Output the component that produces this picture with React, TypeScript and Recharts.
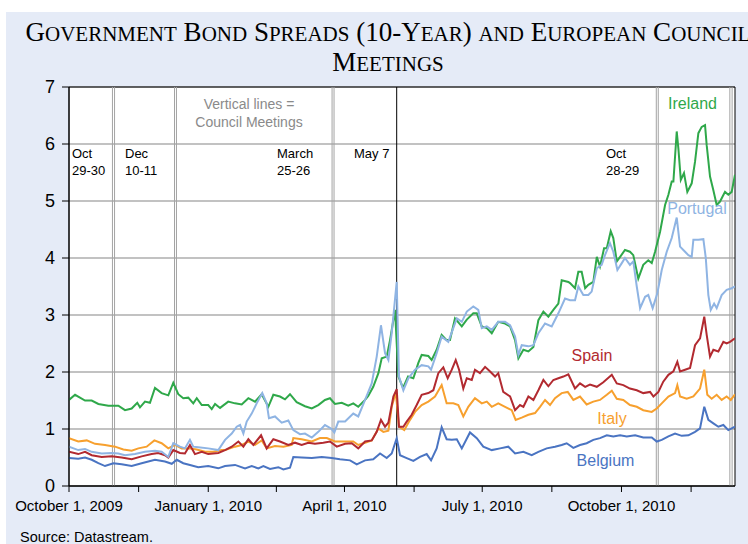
import React from 'react';
import { LineChart, Line, XAxis, YAxis, CartesianGrid, ReferenceLine, ReferenceArea } from 'recharts';

// x = days since October 1, 2009 ; y = spread over Bunds (percentage points)
const ireland: [number, number][] = [[0,1.51],[4,1.60],[10.6,1.50],[15,1.50],[19.4,1.44],[26,1.41],[32.6,1.41],[37,1.33],[41.4,1.36],[45.1,1.46],[46.9,1.38],[50.2,1.48],[53.5,1.46],[56.8,1.72],[61.2,1.63],[65.6,1.59],[68.9,1.81],[72.2,1.61],[75.5,1.54],[78.8,1.55],[82.1,1.45],[84.4,1.54],[87.7,1.42],[92,1.42],[94.3,1.35],[96.5,1.44],[99.8,1.37],[105.2,1.48],[109.7,1.45],[114.1,1.43],[118.5,1.54],[122.9,1.48],[127.3,1.61],[131.7,1.39],[135,1.60],[139.4,1.57],[142.7,1.52],[146,1.61],[150.4,1.47],[155.9,1.40],[160.4,1.36],[164.7,1.42],[169.1,1.51],[172.4,1.54],[175.7,1.44],[180.2,1.46],[184.5,1.41],[187.8,1.45],[191.1,1.39],[195.6,1.51],[197.7,1.58],[201,1.74],[204.4,1.98],[206.6,2.24],[209.9,2.27],[212.1,2.56],[215.4,3.09],[217.6,1.92],[220.7,1.72],[224,1.92],[227.5,1.89],[230.8,2.16],[233,2.30],[237.4,2.28],[239.6,2.21],[242.9,2.39],[246.2,2.65],[249.5,2.56],[251.7,2.56],[255,2.94],[259.5,2.80],[262.8,2.92],[267.1,3.03],[269.4,3.03],[272.7,2.80],[276,2.77],[279.3,2.68],[283.6,2.88],[288.1,2.85],[291.4,2.80],[294.7,2.56],[296.9,2.24],[300.2,2.39],[303.5,2.36],[306.8,2.44],[310.1,2.91],[313.4,3.06],[316.7,2.97],[320,3.09],[323.3,3.20],[325.5,3.61],[329.9,3.58],[331,3.56],[334.3,3.47],[336.5,3.76],[338.7,3.76],[341,3.47],[343.1,3.53],[346.4,3.58],[348.7,4.02],[350.8,3.85],[353.5,4.17],[355.3,4.17],[357.9,4.47],[359.6,4.35],[361.9,3.94],[364.1,4.02],[367.3,4.14],[370.6,4.11],[372.8,4.05],[376.1,3.64],[379.4,3.88],[382.7,3.96],[385,3.91],[387.2,4.11],[390.5,4.46],[393.8,4.93],[396,5.11],[398.2,5.34],[399.3,5.34],[401.5,6.22],[402.6,5.92],[404.2,5.37],[406.3,5.49],[408.5,5.16],[411.4,5.31],[413.6,5.69],[415.8,6.19],[418,6.30],[420.2,6.33],[421.3,5.98],[423.5,5.43],[425.7,5.19],[427.9,4.93],[430.1,4.99],[433.4,5.16],[435.6,5.11],[437.8,5.16],[440,5.46]];

const portugal: [number, number][] = [[0,0.69],[6.1,0.63],[10.6,0.65],[15,0.60],[21.6,0.57],[28.2,0.58],[32.6,0.57],[37,0.54],[43.6,0.56],[50.2,0.60],[56.8,0.62],[61.2,0.60],[65.6,0.51],[68.9,0.75],[73.3,0.69],[76.6,0.66],[79.9,0.81],[82.1,0.69],[85.4,0.68],[92,0.66],[98.6,0.63],[103.1,0.81],[107.5,0.92],[110.8,1.04],[113,1.07],[115.2,0.92],[117.4,1.13],[120.7,1.27],[124,1.45],[127.7,1.63],[130.6,1.45],[132.1,1.19],[136.1,1.22],[140.5,1.11],[144.9,1.15],[148.2,0.98],[152.6,0.91],[155.9,0.92],[160.4,0.85],[164.7,0.95],[169.1,1.07],[173.1,1.01],[175.3,0.94],[177.9,1.13],[182.4,1.13],[187.8,1.27],[191.1,1.22],[195.6,1.51],[200,1.80],[203.3,2.27],[206.1,2.82],[208.8,2.33],[211,2.21],[213.2,2.68],[216.5,3.58],[218,1.92],[220.9,1.68],[224.2,1.89],[228.6,2.04],[233,2.12],[237.4,2.10],[239.2,2.04],[242.9,2.33],[246.2,2.62],[250.6,2.53],[256.2,2.94],[259.5,2.88],[262.8,3.06],[267.1,3.15],[270.4,3.09],[272.7,2.77],[276,2.80],[279.3,2.74],[283.6,2.88],[288.1,2.88],[291.4,2.82],[294.7,2.62],[296.9,2.30],[299.1,2.47],[303.5,2.45],[306.8,2.47],[310.1,2.68],[314.5,2.85],[318.9,2.80],[323.3,3.03],[327.7,3.29],[331,3.26],[334.3,3.26],[336.5,3.50],[339.8,3.35],[343.1,3.35],[345.3,3.41],[348.7,3.82],[351.9,3.88],[354.1,4.05],[357.4,4.26],[359.6,4.11],[362.3,3.79],[365.2,3.91],[367.3,4.00],[370.6,3.88],[372.8,3.94],[375.1,3.50],[377.3,3.12],[380.6,3.32],[382.7,3.35],[385.6,3.12],[388.7,3.38],[391.6,3.79],[394.9,4.11],[398.2,4.35],[401.5,4.71],[403.7,4.20],[407,4.11],[409.2,4.05],[411.4,4.02],[412.5,4.32],[415.8,4.32],[419.1,4.33],[420.7,4.00],[422.4,3.35],[424,3.09],[426.2,3.20],[427.9,3.12],[431.2,3.35],[434.5,3.44],[437.8,3.47],[440,3.50]];

const spain: [number, number][] = [[0,0.60],[6.1,0.56],[10.6,0.60],[15,0.54],[21.6,0.51],[28.2,0.52],[34.8,0.50],[41.4,0.47],[48,0.52],[54.6,0.56],[59,0.58],[63.4,0.54],[65.6,0.50],[68.9,0.63],[73.3,0.58],[76.6,0.57],[79.9,0.72],[83.2,0.56],[87.7,0.60],[92,0.56],[98.6,0.58],[103.1,0.63],[107.5,0.69],[111.9,0.78],[115.2,0.69],[118.5,0.82],[121.8,0.72],[126.9,0.89],[130.6,0.66],[135,0.82],[139.4,0.78],[144.9,0.72],[149.3,0.76],[153.7,0.72],[158.1,0.76],[162.5,0.74],[168,0.76],[172.4,0.78],[176.9,0.69],[182.4,0.74],[186.8,0.75],[191.1,0.66],[195.6,0.78],[200,0.80],[203.3,0.95],[206.1,1.16],[208.8,1.04],[211,1.11],[214.3,1.57],[216.5,1.70],[218,1.04],[220.9,1.04],[223.1,1.13],[226.4,1.25],[229.7,1.42],[233,1.60],[237.4,1.63],[240.7,1.68],[244,1.98],[247.3,2.08],[250.2,1.89],[252.9,2.04],[255.5,2.21],[257.7,2.04],[260.5,1.71],[262.8,1.89],[266.1,1.86],[268.2,2.04],[271.5,1.98],[274.9,2.09],[278.2,2.01],[281.5,1.92],[283.6,1.98],[286.9,1.65],[291.4,1.57],[294.7,1.33],[298,1.42],[300.2,1.39],[303.5,1.57],[306.8,1.51],[310.1,1.68],[313.4,1.86],[316.7,1.75],[320,1.86],[323.3,1.89],[326.6,1.92],[329.9,1.96],[334.3,1.71],[337.6,1.80],[341,1.74],[344.2,1.78],[348.7,1.74],[353,1.82],[358.6,1.95],[361.9,1.80],[366.2,1.77],[370.6,1.71],[375.1,1.68],[379.4,1.63],[383.9,1.65],[386.1,1.57],[389.4,1.65],[392.6,1.83],[396,1.95],[399.3,2.01],[401.9,2.18],[403.7,2.01],[407,2.04],[410.3,2.07],[413.6,2.47],[416.9,2.59],[419.7,2.97],[421.3,2.65],[423.5,2.27],[425.7,2.39],[429,2.36],[432.3,2.53],[434.5,2.50],[436.7,2.53],[440,2.59]];

const italy: [number, number][] = [[0,0.84],[6.1,0.78],[11.7,0.80],[17.2,0.74],[23.8,0.72],[30.4,0.69],[35.9,0.64],[41.4,0.62],[45.8,0.66],[51.3,0.69],[56.4,0.80],[61.2,0.75],[65.6,0.66],[70,0.72],[74.5,0.66],[79.9,0.66],[84.4,0.64],[89.9,0.60],[95.3,0.60],[100.9,0.63],[103.1,0.63],[109.7,0.69],[114.1,0.72],[118.5,0.78],[122.9,0.72],[127.3,0.80],[130.6,0.66],[136.1,0.70],[141.6,0.69],[147.1,0.72],[148.2,0.84],[153.7,0.82],[160.4,0.78],[165.8,0.84],[170.3,0.84],[175.7,0.78],[182.4,0.78],[187.8,0.78],[191.1,0.72],[195.6,0.76],[200,0.80],[204.4,1.01],[207.7,0.95],[211,0.97],[213.2,1.39],[215.9,1.64],[218,1.04],[221.5,0.98],[225.3,1.16],[228.6,1.30],[233,1.42],[237.4,1.48],[241.8,1.57],[246.2,1.77],[249.5,1.45],[253.9,1.45],[257.2,1.42],[260.5,1.22],[263.8,1.39],[268.2,1.54],[272.7,1.45],[276,1.48],[279.3,1.39],[283.6,1.45],[288.1,1.39],[292.5,1.33],[295.1,1.16],[299.1,1.20],[303.5,1.25],[307.9,1.28],[311.2,1.39],[314.5,1.51],[317.8,1.42],[321.1,1.54],[325.5,1.63],[329.5,1.65],[333.2,1.51],[337.6,1.57],[342,1.43],[346.4,1.48],[350.8,1.51],[355.3,1.60],[358.6,1.67],[361.9,1.53],[366.2,1.51],[370.6,1.42],[375.1,1.39],[379.4,1.33],[385,1.30],[388.3,1.36],[391.6,1.45],[396,1.57],[400.4,1.63],[401.9,1.77],[403.7,1.57],[408.1,1.53],[412.5,1.57],[416.9,1.71],[419.7,2.04],[421.7,1.60],[424.6,1.53],[427.9,1.60],[431.2,1.51],[434.5,1.57],[437.2,1.51],[440,1.61]];

const belgium: [number, number][] = [[0,0.49],[6.1,0.48],[10.6,0.50],[15,0.46],[19.4,0.40],[23.8,0.35],[29.3,0.40],[34.8,0.38],[41.4,0.35],[48,0.40],[52.4,0.43],[56.8,0.46],[63.4,0.43],[67.9,0.39],[71.2,0.46],[75.5,0.40],[79.9,0.37],[85.4,0.33],[92,0.35],[98.6,0.31],[103.1,0.35],[109.7,0.37],[116.3,0.31],[120.7,0.35],[125.1,0.31],[128.4,0.35],[132.8,0.30],[138.3,0.33],[141.6,0.29],[146,0.32],[148.2,0.51],[153.7,0.50],[160.4,0.49],[167,0.51],[173.6,0.49],[179,0.47],[185.7,0.45],[190.1,0.38],[195.6,0.45],[201,0.47],[205.5,0.57],[209.9,0.49],[213.2,0.57],[216.5,0.84],[218.7,0.54],[223.1,0.49],[227.5,0.44],[231.9,0.51],[236.3,0.56],[239.2,0.45],[242.9,0.66],[246.2,1.03],[249.5,0.82],[252.9,0.81],[256.2,0.82],[259.5,0.66],[264.9,0.94],[269.4,0.84],[273.7,0.69],[279.3,0.63],[284.8,0.66],[290.2,0.69],[294.7,0.57],[300.2,0.60],[305.7,0.54],[310.1,0.60],[315.6,0.66],[321.1,0.69],[325.5,0.72],[328.8,0.75],[333.2,0.67],[337.6,0.72],[342,0.75],[346.4,0.81],[350.8,0.84],[355.3,0.89],[359.6,0.87],[364.1,0.89],[368.5,0.87],[374,0.89],[379.4,0.85],[385,0.85],[388.3,0.78],[391.6,0.81],[396,0.87],[400.4,0.92],[404.8,0.88],[409.2,0.89],[413.6,0.95],[416.9,1.01],[419.7,1.39],[422.4,1.16],[425.7,1.10],[429,1.04],[432.3,1.07],[435.6,0.98],[440,1.04]];

const xTicks = [0, 46, 92, 137, 182, 228, 273, 319, 365, 411];
const xTickLabels: Record<number, string> = {
  0: 'October 1, 2009',
  92: 'January 1, 2010',
  182: 'April 1, 2010',
  273: 'July 1, 2010',
  365: 'October 1, 2010',
};
const yTicks = [0, 1, 2, 3, 4, 5, 6, 7];
// two-day European Council meetings (each day drawn as a line)
const councilMeetings: [number, number][] = [[28.7, 30.1], [69.7, 71.0], [173.8, 175.1], [388.0, 389.3], [436.6, 438.1]];
const may7 = 216.5;

const series = [
  { name: 'Belgium', data: belgium, color: '#4a74c2' },
  { name: 'Italy', data: italy, color: '#f7a02e' },
  { name: 'Spain', data: spain, color: '#b22a30' },
  { name: 'Ireland', data: ireland, color: '#2fa84a' },
  { name: 'Portugal', data: portugal, color: '#8fb4e3' },
];

const titleLine1 = 'Government Bond Spreads (10-Year) and European Council';
const titleLine2 = 'Meetings';

const sans = '"Liberation Sans", Arial, sans-serif';

function smallCaps(str: string, big: number, small: number) {
  const runs: { t: string; lower: boolean }[] = [];
  for (const ch of str) {
    const lower = ch >= 'a' && ch <= 'z';
    const last = runs[runs.length - 1];
    if (last && last.lower === lower) last.t += ch;
    else runs.push({ t: ch, lower });
  }
  return runs.map((r, i) => (
    <tspan key={i} fontSize={r.lower ? small : big}>{r.lower ? r.t.toUpperCase() : r.t}</tspan>
  ));
}

const XTick = (props: any) => {
  const { x, y, payload } = props;
  const label = xTickLabels[payload.value] ?? '';
  return (
    <text x={x} y={y} dy="0.71em" textAnchor="middle" fontSize={15} fontFamily={sans} fill="#000">
      {label}
    </text>
  );
};

const Label = ({ cx, cy, color, text, size }: any) => (
  <div style={{ position: 'absolute', left: cx - 60, top: cy - 10, width: 120, textAlign: 'center', lineHeight: '20px', fontSize: size, color, fontFamily: sans, whiteSpace: 'nowrap' }}>{text}</div>
);

const Note = ({ left, top, lines }: any) => (
  <div style={{ position: 'absolute', left, top, fontSize: 13, lineHeight: '17px', color: '#000', fontFamily: sans, whiteSpace: 'nowrap' }}>
    {lines.map((l: string, i: number) => <div key={i}>{l}</div>)}
  </div>
);

export default function App() {
  return (
    <div style={{ position: 'absolute', left: 6, top: 12, width: 742, height: 532, background: '#e5ebf7', overflow: 'hidden' }}>
      <svg width={742} height={80} style={{ position: 'absolute', left: 0, top: 0 }}>
        <text x={382} y={29} textAnchor="middle" fontFamily='"Liberation Serif", "Times New Roman", serif' fill="#000" style={{ whiteSpace: 'pre' }}>
          {smallCaps(titleLine1, 27, 21)}
        </text>
        <text x={382} y={59} textAnchor="middle" fontFamily='"Liberation Serif", "Times New Roman", serif' fill="#000" style={{ whiteSpace: 'pre' }}>
          {smallCaps(titleLine2, 27, 21)}
        </text>
      </svg>
      <div style={{ position: 'absolute', left: 0, top: 0 }}>
        <LineChart width={742} height={532} margin={{ top: 75, right: 13, bottom: 28, left: 23 }}>
          <CartesianGrid vertical={false} stroke="#858585" strokeWidth={1.2} fill="#ffffff" />
          <XAxis
            dataKey="d"
            type="number"
            domain={[0, 440]}
            ticks={xTicks}
            interval={0}
            tick={<XTick />}
            tickSize={6}
            tickMargin={8}
            height={30}
            stroke="#000"
            allowDataOverflow
          />
          <YAxis
            type="number"
            domain={[0, 7]}
            ticks={yTicks}
            interval={0}
            width={40}
            tickSize={7}
            tickMargin={7}
            stroke="#000"
            tick={{ fill: '#000', fontSize: 18, fontFamily: sans }}
          />
          {councilMeetings.flatMap(([a, b], i) => [
            <ReferenceLine key={`a${i}`} x={a} stroke="#a3a3a3" strokeWidth={1} />,
            <ReferenceLine key={`b${i}`} x={b} stroke="#a3a3a3" strokeWidth={1} />,
          ])}
          <ReferenceLine x={may7} stroke="#000" strokeWidth={1} />
          <ReferenceArea x1={0} x2={440} y1={0} y2={7} fill="none" stroke="#000" strokeWidth={1} />
          {series.map((s) => (
            <Line
              key={s.name}
              data={s.data.map(([d, v]) => ({ d, v }))}
              dataKey="v"
              name={s.name}
              type="linear"
              stroke={s.color}
              strokeWidth={2}
              dot={false}
              activeDot={false}
              isAnimationActive={false}
            />
          ))}
        </LineChart>
      </div>
      <div style={{ position: 'absolute', left: 143, top: 83, width: 200, textAlign: 'center', fontSize: 14, lineHeight: '18px', color: '#8a8a8a', fontFamily: sans }}>
        <div>Vertical lines =</div>
        <div>Council Meetings</div>
      </div>
      <Note left={66} top={133} lines={['Oct', '29-30']} />
      <Note left={119} top={133} lines={['Dec', '10-11']} />
      <Note left={271} top={133} lines={['March', '25-26']} />
      <Note left={348} top={133} lines={['May 7']} />
      <Note left={600} top={133} lines={['Oct', '28-29']} />
      <Label cx={686.5} cy={92} color="#2fa84a" text="Ireland" size={16} />
      <Label cx={691} cy={197} color="#8fb4e3" text="Portugal" size={16} />
      <Label cx={586} cy={344} color="#b22a30" text="Spain" size={16} />
      <Label cx={606} cy={407} color="#f7a02e" text="Italy" size={16} />
      <Label cx={599.5} cy={449} color="#4a74c2" text="Belgium" size={16} />
      <div style={{ position: 'absolute', left: 14, top: 516, fontSize: 14.5, lineHeight: '18px', color: '#000', fontFamily: sans, whiteSpace: 'nowrap' }}>
        Source: Datastream.
      </div>
    </div>
  );
}
